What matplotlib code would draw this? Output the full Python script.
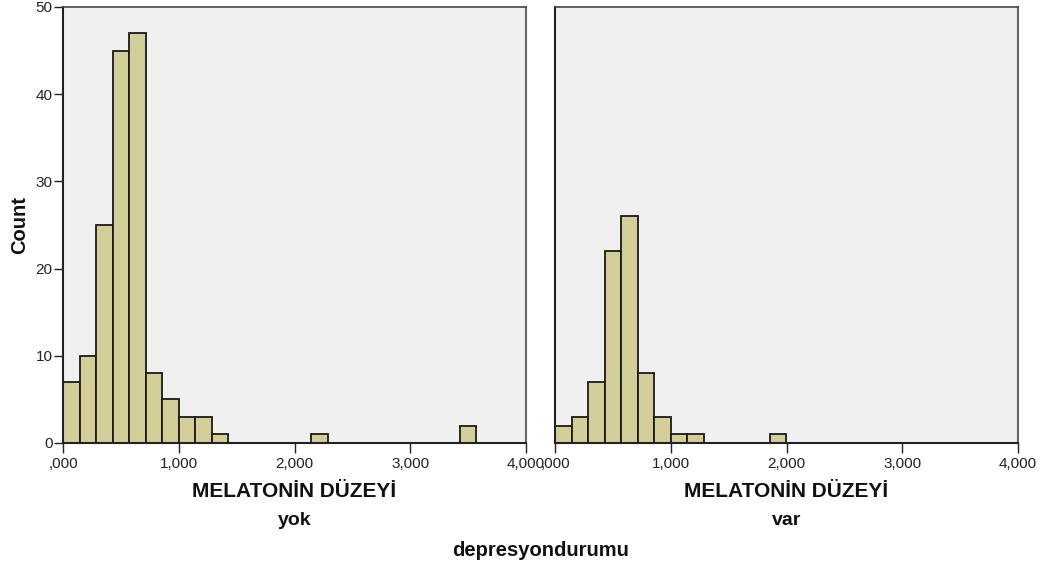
import numpy as np
import matplotlib
matplotlib.use("Agg")
import matplotlib.pyplot as plt

plt.rcParams['font.family'] = ['Liberation Sans', 'DejaVu Sans']

# ---- data ----
bin_width = 1.0 / 7.0
yok_counts = [7, 10, 25, 45, 47, 8, 5, 3, 3, 1, 0, 0, 0, 0, 0, 1, 0, 0, 0, 0, 0, 0, 0, 0, 2]
var_counts = [2, 3, 7, 22, 26, 8, 3, 1, 1, 0, 0, 0, 0, 1]
groups = ["yok", "var"]
x_ticks = [0, 1, 2, 3, 4]
x_tick_labels = [",000", "1,000", "2,000", "3,000", "4,000"]
y_ticks = [0, 10, 20, 30, 40, 50]
x_label = "MELATONİN DÜZEYİ"
y_label = "Count"
panel_title = "depresyondurumu"

# ---- style ----
bar_color = "#D3CE97"
bg_color = "#F0F0F0"

fig = plt.figure(figsize=(10.5, 5.65), dpi=100)
W, H = 1050, 565
ax_bottom = (H - 443) / H
ax_height = (443 - 7) / H
lefts_px = [63, 555]
width_px = 463

for i, (grp, counts) in enumerate(zip(groups, [yok_counts, var_counts])):
    ax = fig.add_axes([lefts_px[i] / W, ax_bottom, width_px / W, ax_height])
    ax.set_facecolor(bg_color)
    counts = np.asarray(counts)
    edges = np.arange(len(counts)) * bin_width
    mask = counts > 0
    ax.bar(edges[mask], counts[mask], width=bin_width, align='edge',
           color=bar_color, edgecolor='#1a1a1a', linewidth=1.3, zorder=2)
    ax.set_xlim(0, 4)
    ax.set_ylim(0, 50)
    ax.set_xticks(x_ticks)
    ax.set_xticklabels(x_tick_labels)
    ax.tick_params(axis='x', direction='out', length=7, width=1.0, pad=3,
                   labelsize=11, colors='#222222')
    ax.set_yticks(y_ticks)
    if i == 0:
        ax.tick_params(axis='y', direction='out', length=6.5, width=1.0, pad=1,
                       labelsize=11, colors='#222222')
    else:
        ax.tick_params(axis='y', left=False, labelleft=False)
    ax.spines['left'].set_color('#222222')
    ax.spines['left'].set_linewidth(1.5)
    ax.spines['bottom'].set_color('#222222')
    ax.spines['bottom'].set_linewidth(1.5)
    ax.spines['top'].set_color('#444444')
    ax.spines['top'].set_linewidth(1.2)
    ax.spines['right'].set_color('#666666')
    ax.spines['right'].set_linewidth(1.5)

    cx = (lefts_px[i] + width_px / 2) / W
    fig.text(cx, (H - 497) / H, x_label, ha='center', va='baseline',
             fontsize=15, fontweight='bold', color='#111111')
    fig.text(cx, (H - 525) / H, grp, ha='center', va='baseline',
             fontsize=14, fontweight='bold', color='#111111')

fig.text(19.5 / W, (H - 225) / H, y_label, rotation=90, ha='center', va='center',
         fontsize=14.5, fontweight='bold', color='#111111')
fig.text(((63 + 1018) / 2) / W, (H - 556) / H, panel_title, ha='center', va='baseline',
         fontsize=14.5, fontweight='bold', color='#111111')

fig.savefig("out.png", dpi=100, facecolor='white')
